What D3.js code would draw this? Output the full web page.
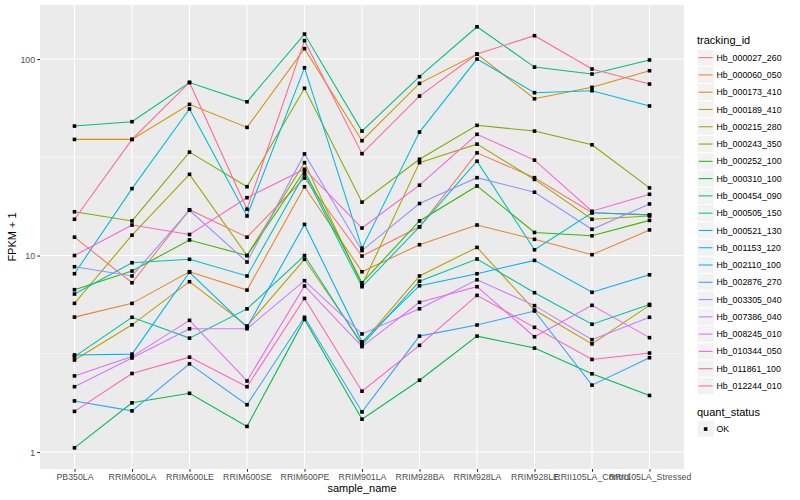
<!DOCTYPE html>
<html>
<head>
<meta charset="utf-8">
<script src="https://cdn.jsdelivr.net/npm/d3@7"></script>
<style>
  body { margin: 0; background: #fff; }
  text { font-family: "Liberation Sans", Arial, Helvetica, sans-serif; }
</style>
</head>
<body>
<svg id="chart" width="800" height="500"></svg>
<script>
const categories = ["PB350LA","RRIM600LA","RRIM600LE","RRIM600SE","RRIM600PE","RRIM901LA","RRIM928BA","RRIM928LA","RRIM928LE","RRII105LA_Control","RRII105LA_Stressed"];

const trackingIds = ["Hb_000027_260","Hb_000060_050","Hb_000173_410","Hb_000189_410","Hb_000215_280","Hb_000243_350","Hb_000252_100","Hb_000310_100","Hb_000454_090","Hb_000505_150","Hb_000521_130","Hb_001153_120","Hb_002110_100","Hb_002876_270","Hb_003305_040","Hb_007386_040","Hb_008245_010","Hb_010344_050","Hb_011861_100","Hb_012244_010"];

// FPKM + 1 values, one array per tracking_id, in category order
const Hb_000027_260 = [12.4, 7.27, 17.1, 12.4, 24.8, 9.94, 14.0, 33.3, 24.9, 16.5, 16.1];
const Hb_000060_050 = [4.86, 5.71, 8.27, 6.67, 22.4, 8.27, 11.35, 14.3, 12.1, 10.1, 13.5];
const Hb_000173_410 = [39, 39, 58.8, 44.9, 113, 38.4, 75.2, 106, 62.8, 71.8, 87.2];
const Hb_000189_410 = [2.94, 4.44, 7.36, 4.38, 9.57, 3.57, 7.87, 11.0, 5.28, 3.55, 5.58];
const Hb_000215_280 = [5.71, 12.7, 25.9, 10.0, 29.7, 7.08, 29.7, 36.9, 24.4, 15.3, 15.9];
const Hb_000243_350 = [16.7, 15.0, 33.6, 22.4, 71, 18.7, 30.9, 46, 43, 36.6, 22.1];
const Hb_000252_100 = [6.70, 8.34, 12.0, 10.0, 27.0, 7.27, 15.0, 22.6, 13.1, 12.6, 15.1];
const Hb_000310_100 = [1.05, 1.78, 1.99, 1.35, 4.73, 1.47, 2.32, 3.89, 3.38, 2.50, 1.94];
const Hb_000454_090 = [45.6, 48, 76, 60.6, 134, 43, 81.3, 146, 91, 83.9, 98.9];
const Hb_000505_150 = [3.06, 4.85, 3.80, 5.35, 10.0, 3.50, 7.4, 9.6, 6.47, 4.47, 5.64];
const Hb_000521_130 = [6.37, 9.19, 9.57, 7.87, 26.0, 6.94, 14.0, 30.2, 10.7, 16.5, 16.1];
const Hb_001153_120 = [8.08, 21.9, 55.7, 15.9, 90.3, 10.9, 42.5, 100, 67.4, 69, 57.7];
const Hb_002110_100 = [3.12, 3.15, 8.22, 4.31, 14.4, 3.64, 7.02, 8.08, 9.45, 6.50, 7.98];
const Hb_002876_270 = [1.82, 1.62, 2.81, 1.74, 4.85, 1.60, 3.89, 4.43, 5.22, 2.19, 3.02];
const Hb_003305_040 = [8.77, 7.87, 17.0, 9.27, 32.9, 10.6, 18.4, 24.9, 21, 13.6, 18.3];
const Hb_007386_040 = [2.15, 3.01, 4.24, 4.24, 7.45, 3.99, 5.36, 7.53, 5.56, 3.73, 4.85];
const Hb_008245_010 = [2.44, 3.06, 4.68, 2.30, 7.0, 3.44, 5.78, 6.94, 3.86, 5.58, 3.82];
const Hb_010344_050 = [10.0, 14.3, 12.8, 19.7, 27.5, 13.8, 22.8, 41.4, 30.6, 16.8, 20.5];
const Hb_011861_100 = [1.61, 2.51, 3.04, 2.15, 6.05, 2.04, 3.49, 6.27, 4.31, 2.96, 3.19];
const Hb_012244_010 = [15.3, 39, 76, 17.2, 124, 33, 64.8, 106, 131.5, 89, 74.6];

const yTickValues = [1, 10, 100];
const yTickLabels = ["1", "10", "100"];
const yMinorValues = [Math.sqrt(10), Math.sqrt(1000)];
const quantLevels = ["OK"];

const seriesValues = [Hb_000027_260, Hb_000060_050, Hb_000173_410, Hb_000189_410, Hb_000215_280, Hb_000243_350, Hb_000252_100, Hb_000310_100, Hb_000454_090, Hb_000505_150, Hb_000521_130, Hb_001153_120, Hb_002110_100, Hb_002876_270, Hb_003305_040, Hb_007386_040, Hb_008245_010, Hb_010344_050, Hb_011861_100, Hb_012244_010];

// ggplot2 hue palette: hcl (polar CIE-LUV) h = 15..375, c=100, l=65
function hclLuv(h, c, l) {
  const hr = h * Math.PI / 180;
  const U = c * Math.cos(hr), V = c * Math.sin(hr);
  const Xn = 95.047, Yn = 100.0, Zn = 108.883;
  const den = Xn + 15 * Yn + 3 * Zn;
  const un = 4 * Xn / den, vn = 9 * Yn / den;
  const Y = l > 8 ? Yn * Math.pow((l + 16) / 116, 3) : Yn * l / 903.3;
  const u = U / (13 * l) + un, v = V / (13 * l) + vn;
  const X = Y * 9 * u / (4 * v);
  const Z = Y * (12 - 3 * u - 20 * v) / (4 * v);
  const x = X / 100, y = Y / 100, z = Z / 100;
  let r = 3.240479 * x - 1.537150 * y - 0.498535 * z;
  let g = -0.969256 * x + 1.875992 * y + 0.041556 * z;
  let b = 0.055648 * x - 0.204043 * y + 1.057311 * z;
  const gam = t => { t = t <= 0.0031308 ? 12.92 * t : 1.055 * Math.pow(t, 1 / 2.4) - 0.055; return Math.max(0, Math.min(1, t)); };
  return d3.rgb(gam(r) * 255, gam(g) * 255, gam(b) * 255).formatHex();
}
const n = trackingIds.length;
const palette = d3.range(n).map(i => hclLuv(15 + i * 360 / n, 100, 65));
const color = d3.scaleOrdinal().domain(trackingIds).range(palette);

const svg = d3.select("#chart");
const panel = { left: 40, right: 684, top: 5, bottom: 469 };

const x = d3.scalePoint().domain(categories).range([panel.left, panel.right]).padding(0.6);
const y = d3.scaleLog().domain([0.8196, 188.4]).range([panel.bottom, panel.top]);

// panel background
svg.append("rect").attr("x", panel.left).attr("y", panel.top)
  .attr("width", panel.right - panel.left).attr("height", panel.bottom - panel.top)
  .attr("fill", "#EBEBEB");

const grid = svg.append("g");
grid.selectAll("line.minor").data(yMinorValues).join("line")
  .attr("x1", panel.left).attr("x2", panel.right)
  .attr("y1", d => y(d)).attr("y2", d => y(d))
  .attr("stroke", "#fff").attr("stroke-width", 0.53);
grid.selectAll("line.majy").data(yTickValues).join("line")
  .attr("x1", panel.left).attr("x2", panel.right)
  .attr("y1", d => y(d)).attr("y2", d => y(d))
  .attr("stroke", "#fff").attr("stroke-width", 1.07);
grid.selectAll("line.majx").data(categories).join("line")
  .attr("y1", panel.top).attr("y2", panel.bottom)
  .attr("x1", d => x(d)).attr("x2", d => x(d))
  .attr("stroke", "#fff").attr("stroke-width", 1.07);

// lines
const lineGen = d3.line().x((d, i) => x(categories[i])).y(d => y(d));
const plot = svg.append("g");
plot.selectAll("path.series").data(trackingIds).join("path")
  .attr("d", (id, k) => lineGen(seriesValues[k]))
  .attr("fill", "none")
  .attr("stroke", id => color(id))
  .attr("stroke-width", 1.07);

// points
const pts = [];
trackingIds.forEach((id, k) => seriesValues[k].forEach((v, i) => pts.push({ id, cat: categories[i], v })));
const ps = 3.6;
plot.selectAll("rect.pt").data(pts).join("rect")
  .attr("x", d => x(d.cat) - ps / 2).attr("y", d => y(d.v) - ps / 2)
  .attr("width", ps).attr("height", ps).attr("fill", "#000");

// axes
const axisColor = "#333333";
const textColor = "#4D4D4D";
const yAxis = svg.append("g").attr("transform", `translate(${panel.left},0)`)
  .call(d3.axisLeft(y).tickValues(yTickValues).tickFormat((d, i) => yTickLabels[i]).tickSize(2.75).tickPadding(2.2));
yAxis.select(".domain").remove();
yAxis.selectAll(".tick line").attr("stroke", axisColor).attr("stroke-width", 1.07);
yAxis.selectAll(".tick text").attr("fill", textColor).style("font-size", "8.8px").attr("dy", "0.35em");

const xAxis = svg.append("g").attr("transform", `translate(0,${panel.bottom})`)
  .call(d3.axisBottom(x).tickSize(2.75).tickPadding(2.2));
xAxis.select(".domain").remove();
xAxis.selectAll(".tick line").attr("stroke", axisColor).attr("stroke-width", 1.07);
xAxis.selectAll(".tick text").attr("fill", textColor).style("font-size", "8.8px");

// axis titles
svg.append("text").attr("x", (panel.left + panel.right) / 2).attr("y", 492)
  .attr("text-anchor", "middle").style("font-size", "11px").attr("fill", "#000").text("sample_name");
svg.append("text").attr("transform", `translate(16,${(panel.top + panel.bottom) / 2}) rotate(-90)`)
  .attr("text-anchor", "middle").style("font-size", "11px").attr("fill", "#000").text("FPKM + 1");

// legend: tracking_id
const lg = svg.append("g");
const keyX = 697, keyW = 17.28, keyH = 17.28, firstKeyTop = 49;
lg.append("text").attr("x", keyX).attr("y", 44).style("font-size", "11px").attr("fill", "#000").text("tracking_id");
const keys = lg.selectAll("g.key").data(trackingIds).join("g")
  .attr("transform", (d, i) => `translate(${keyX},${firstKeyTop + i * keyH})`);
keys.append("rect").attr("width", keyW).attr("height", keyH).attr("fill", "#F2F2F2").attr("stroke", "#fff").attr("stroke-width", 1);
keys.append("line").attr("x1", 1.7).attr("x2", keyW - 1.7).attr("y1", keyH / 2).attr("y2", keyH / 2)
  .attr("stroke", d => color(d)).attr("stroke-width", 1.07);
keys.append("text").attr("x", keyW + 2.2).attr("y", keyH / 2).attr("dy", "0.35em")
  .style("font-size", "8.8px").attr("fill", "#000").text(d => d);

// legend: quant_status
const q = svg.append("g");
const qTop = 420.4;
q.append("text").attr("x", keyX).attr("y", 416).style("font-size", "11px").attr("fill", "#000").text("quant_status");
const qk = q.selectAll("g.qkey").data(quantLevels).join("g")
  .attr("transform", (d, i) => `translate(${keyX},${qTop + i * keyH})`);
qk.append("rect").attr("width", keyW).attr("height", keyH).attr("fill", "#F2F2F2").attr("stroke", "#fff");
qk.append("rect").attr("x", keyW / 2 - ps / 2).attr("y", keyH / 2 - ps / 2).attr("width", ps).attr("height", ps).attr("fill", "#000");
qk.append("text").attr("x", keyW + 2.2).attr("y", keyH / 2).attr("dy", "0.35em")
  .style("font-size", "8.8px").attr("fill", "#000").text(d => d);
</script>
</body>
</html>
